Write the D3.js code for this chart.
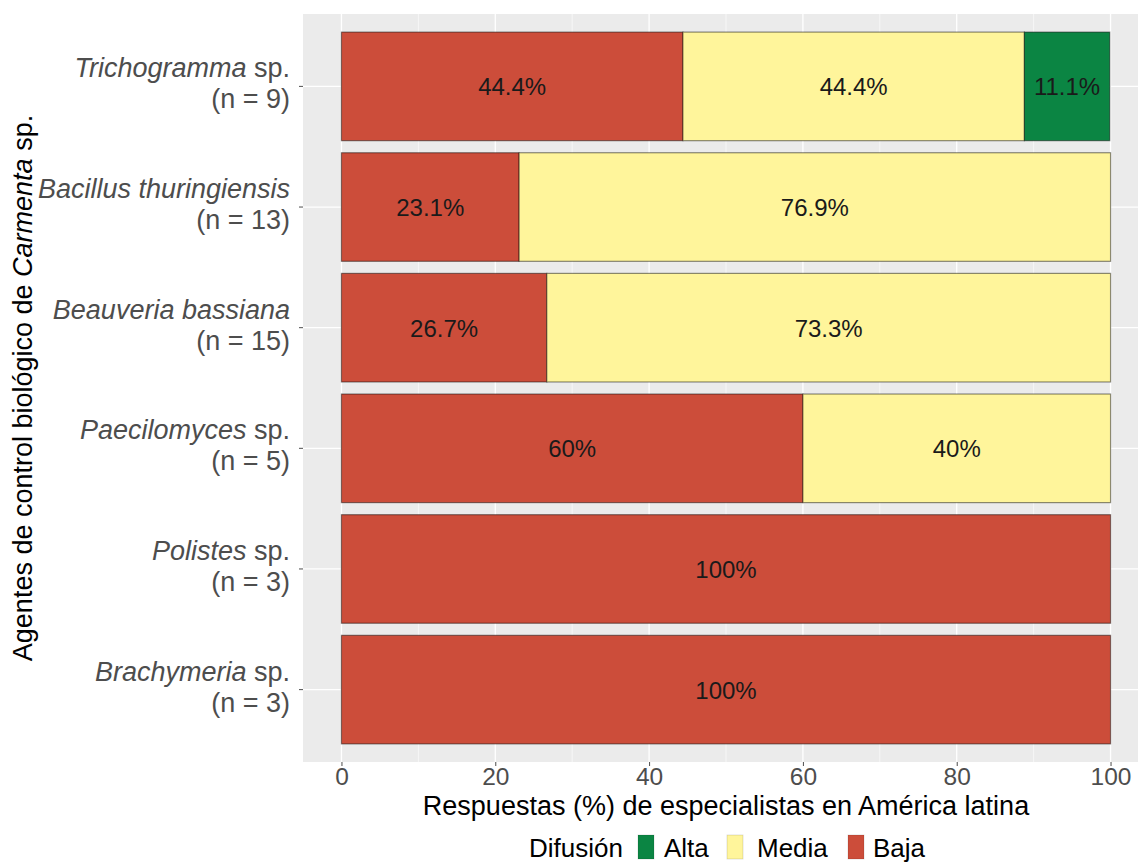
<!DOCTYPE html>
<html><head><meta charset="utf-8">
<script src="https://cdn.jsdelivr.net/npm/d3@7"></script>
<style>body{margin:0;background:#fff;} text{font-family:"Liberation Sans",Arial,sans-serif;}</style>
</head><body>
<svg id="chart" width="1138" height="863"></svg>
<script>
const genus = ["Trichogramma", "Bacillus thuringiensis", "Beauveria bassiana", "Paecilomyces", "Polistes", "Brachymeria"];
const suffix = [" sp.", "", "", " sp.", " sp.", " sp."];
const nLabels = ["(n = 9)", "(n = 13)", "(n = 15)", "(n = 5)", "(n = 3)", "(n = 3)"];
const baja  = [44.4, 23.1, 26.7, 60, 100, 100];
const media = [44.4, 76.9, 73.3, 40, 0, 0];
const alta  = [11.1, 0, 0, 0, 0, 0];
const levels = ["Baja", "Media", "Alta"];
const colors = {Alta: "#0b8543", Media: "#fff59b", Baja: "#cc4d3a"};
const legendOrder = ["Alta", "Media", "Baja"];
const xTicks = [0, 20, 40, 60, 80, 100];
const xMinor = [10, 30, 50, 70, 90];

const svg = d3.select("#chart");
const P = {left: 303, right: 1149, top: 14, bottom: 762};

const x = d3.scaleLinear().domain([-5, 105]).range([P.left, P.right]);
const y = d3.scaleBand().domain(genus).range([P.top, P.bottom]).paddingInner(0.1).paddingOuter(0.15);

// panel
svg.append("rect").attr("x", P.left).attr("y", P.top).attr("width", P.right - P.left).attr("height", P.bottom - P.top).attr("fill", "#ebebeb");
const g = svg.append("g");
xMinor.forEach(v => g.append("line").attr("x1", x(v)).attr("x2", x(v)).attr("y1", P.top).attr("y2", P.bottom).attr("stroke", "#fff").attr("stroke-width", 0.6));
xTicks.forEach(v => g.append("line").attr("x1", x(v)).attr("x2", x(v)).attr("y1", P.top).attr("y2", P.bottom).attr("stroke", "#fff").attr("stroke-width", 1.3));
genus.forEach(c => g.append("line").attr("x1", P.left).attr("x2", P.right).attr("y1", y(c) + y.bandwidth()/2).attr("y2", y(c) + y.bandwidth()/2).attr("stroke", "#fff").attr("stroke-width", 1.3));

// stacked data
const rows = genus.map((c, i) => ({cat: c, Baja: baja[i], Media: media[i], Alta: alta[i]}));
const stack = d3.stack().keys(levels)(rows);
stack.forEach(layer => {
  const key = layer.key;
  layer.forEach(d => {
    const w = d[1] - d[0];
    if (w <= 0) return;
    svg.append("rect")
      .attr("x", x(d[0])).attr("y", y(d.data.cat))
      .attr("width", x(d[1]) - x(d[0])).attr("height", y.bandwidth())
      .attr("fill", colors[key]).attr("stroke", "#000").attr("stroke-opacity", 0.45).attr("stroke-width", 1.2);
  });
});
stack.forEach(layer => {
  layer.forEach(d => {
    const w = d[1] - d[0];
    if (w <= 0) return;
    svg.append("text")
      .attr("x", x((d[0] + d[1]) / 2)).attr("y", y(d.data.cat) + y.bandwidth()/2 + 9)
      .attr("text-anchor", "middle").attr("font-size", 24).attr("fill", "#1a1a1a")
      .text(d3.format("~")(+w.toFixed(1)) + "%");
  });
});

// x axis
const xAxis = svg.append("g").attr("transform", `translate(0,${P.bottom})`)
  .call(d3.axisBottom(x).tickValues(xTicks).tickSize(4).tickPadding(2).tickFormat(d3.format("d")));
xAxis.select(".domain").remove();
xAxis.selectAll("line").attr("stroke", "#4d4d4d").attr("stroke-width", 1);
xAxis.selectAll("text").attr("font-size", 24.5).attr("fill", "#4d4d4d").attr("font-family", "Liberation Sans, Arial, sans-serif");

// y axis
const yAxis = svg.append("g").attr("transform", `translate(${P.left},0)`)
  .call(d3.axisLeft(y).tickSize(4).tickFormat(""));
yAxis.select(".domain").remove();
yAxis.selectAll("line").attr("stroke", "#4d4d4d");
genus.forEach((c, i) => {
  const cy = y(c) + y.bandwidth()/2;
  const t = svg.append("text").attr("text-anchor", "end").attr("font-size", 27).attr("fill", "#4d4d4d");
  const l1 = t.append("tspan").attr("x", 290).attr("y", cy - 9);
  l1.append("tspan").attr("font-style", "italic").text(c);
  if (suffix[i]) l1.append("tspan").text(suffix[i]);
  t.append("tspan").attr("x", 290).attr("y", cy + 22).text(nLabels[i]);
});

// axis titles
svg.append("text").attr("x", (P.left + P.right) / 2).attr("y", 815).attr("text-anchor", "middle").attr("font-size", 27).attr("fill", "#000")
  .text("Respuestas (%) de especialistas en América latina");
const yt = svg.append("text").attr("transform", `translate(32,${(P.top + P.bottom)/2}) rotate(-90)`).attr("text-anchor", "middle").attr("font-size", 27).attr("fill", "#000");
yt.append("tspan").text("Agentes de control biológico de ");
yt.append("tspan").attr("font-style", "italic").text("Carmenta");
yt.append("tspan").text(" sp.");

// legend
const lg = svg.append("g");
lg.append("text").attr("x", 529).attr("y", 857).attr("font-size", 26).attr("fill", "#000").text("Difusión");
const keyX = [638, 727, 848];
const labX = [664, 757, 873];
legendOrder.forEach((k, i) => {
  lg.append("rect").attr("x", keyX[i]).attr("y", 835).attr("width", 16).attr("height", 24)
    .attr("fill", colors[k]).attr("stroke", "#000").attr("stroke-opacity", 0.15).attr("stroke-width", 0.8);
  lg.append("text").attr("x", labX[i]).attr("y", 857).attr("font-size", 26).attr("fill", "#000").text(k);
});
</script>
</body></html>
